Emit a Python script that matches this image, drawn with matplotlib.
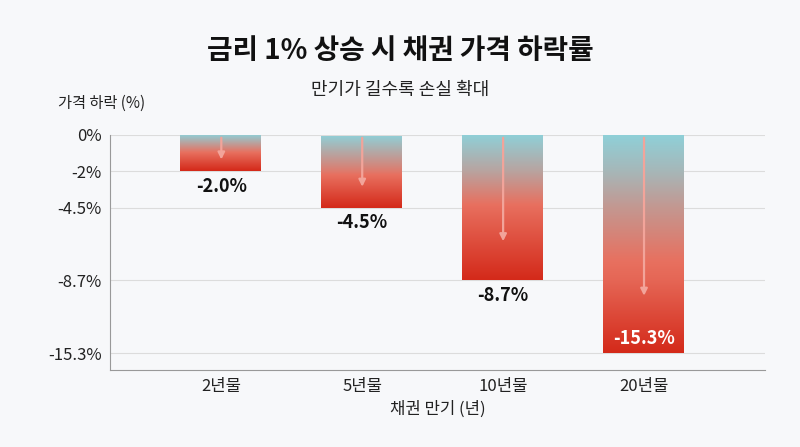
import numpy as np
import matplotlib
matplotlib.use("Agg")
import matplotlib.pyplot as plt
from matplotlib.colors import LinearSegmentedColormap

plt.rcParams['font.family'] = ['Noto Sans CJK KR', 'DejaVu Sans']

categories = ["2년물", "5년물", "10년물", "20년물"]
values = [-2.0, -4.5, -8.7, -15.3]
tick_vals = [0, -2, -4.5, -8.7, -15.3]
tick_labels = ["0%", "-2%", "-4.5%", "-8.7%", "-15.3%"]

# non-uniform axis mapping (value -> position)
map_v = np.array([-21.9, -15.3, -8.7, -4.5, -2.0, 0.0, 2.0])
map_p = np.array([-8.0, -6.0, -4.0, -2.0, -1.0, 0.0, 1.0])
fwd = lambda v: np.interp(v, map_v, map_p)
inv = lambda p: np.interp(p, map_p, map_v)

fig = plt.figure(figsize=(8, 4.47), dpi=100)
fig.patch.set_facecolor("#f7f8fa")
ax = fig.add_axes([0.1375, 0.172, 0.819, 0.526])
ax.set_facecolor("#f7f8fa")
ax.set_yscale('function', functions=(fwd, inv))
ax.set_ylim(inv(-6.47), 0)
ax.set_yticks(tick_vals)
ax.set_yticklabels(tick_labels, fontsize=12, color="#222")
ax.set_xticks(range(4))
ax.set_xticklabels(categories, fontsize=12, color="#222")
ax.grid(axis='y', color="#dcdcdc", lw=0.8)
ax.set_axisbelow(True)
for s in ["top", "right"]:
    ax.spines[s].set_visible(False)
ax.spines["left"].set_color("#999")
ax.spines["bottom"].set_color("#999")
ax.tick_params(length=0, pad=6)
ax.set_xlabel("채권 만기 (년)", fontsize=12, color="#222", labelpad=4)

cmap = LinearSegmentedColormap.from_list("g", ["#8fd0d8", "#e8705f", "#d42a1a"])
w = 0.58
for i, v in enumerate(values):
    bars = ax.bar(i, v, width=w, color="none")
    patch = bars[0]
    grad = np.linspace(0, 1, 256).reshape(-1, 1)
    im = ax.imshow(grad, cmap=cmap, aspect='auto',
                   extent=(i - w/2, i + w/2, v, 0), origin='upper', zorder=2)
    im.set_clip_path(patch)
    ax.annotate("", xy=(i, inv(fwd(v) * 0.75)), xytext=(i, 0),
                arrowprops=dict(arrowstyle="-|>", color="#f2a49a", lw=1.6),
                zorder=3)
    if i < 3:
        ax.text(i, inv(fwd(v) - 0.42), f"{v:.1f}%", ha="center", va="center",
                fontsize=13, fontweight="bold", color="#111")
    else:
        ax.text(i, inv(fwd(v) + 0.4), f"{v:.1f}%", ha="center", va="center",
                fontsize=13, fontweight="bold", color="white", zorder=4)

ax.set_xlim(-0.79, 3.86)
fig.text(0.5, 0.885, "금리 1% 상승 시 채권 가격 하락률", ha="center", va="center",
         fontsize=20, fontweight="bold", color="#111")
fig.text(0.5, 0.80, "만기가 길수록 손실 확대", ha="center", va="center",
         fontsize=13, color="#222")
fig.text(0.072, 0.768, "가격 하락 (%)", ha="left", va="center", fontsize=11, color="#222")
fig.savefig("out.png", dpi=100, facecolor=fig.get_facecolor())
